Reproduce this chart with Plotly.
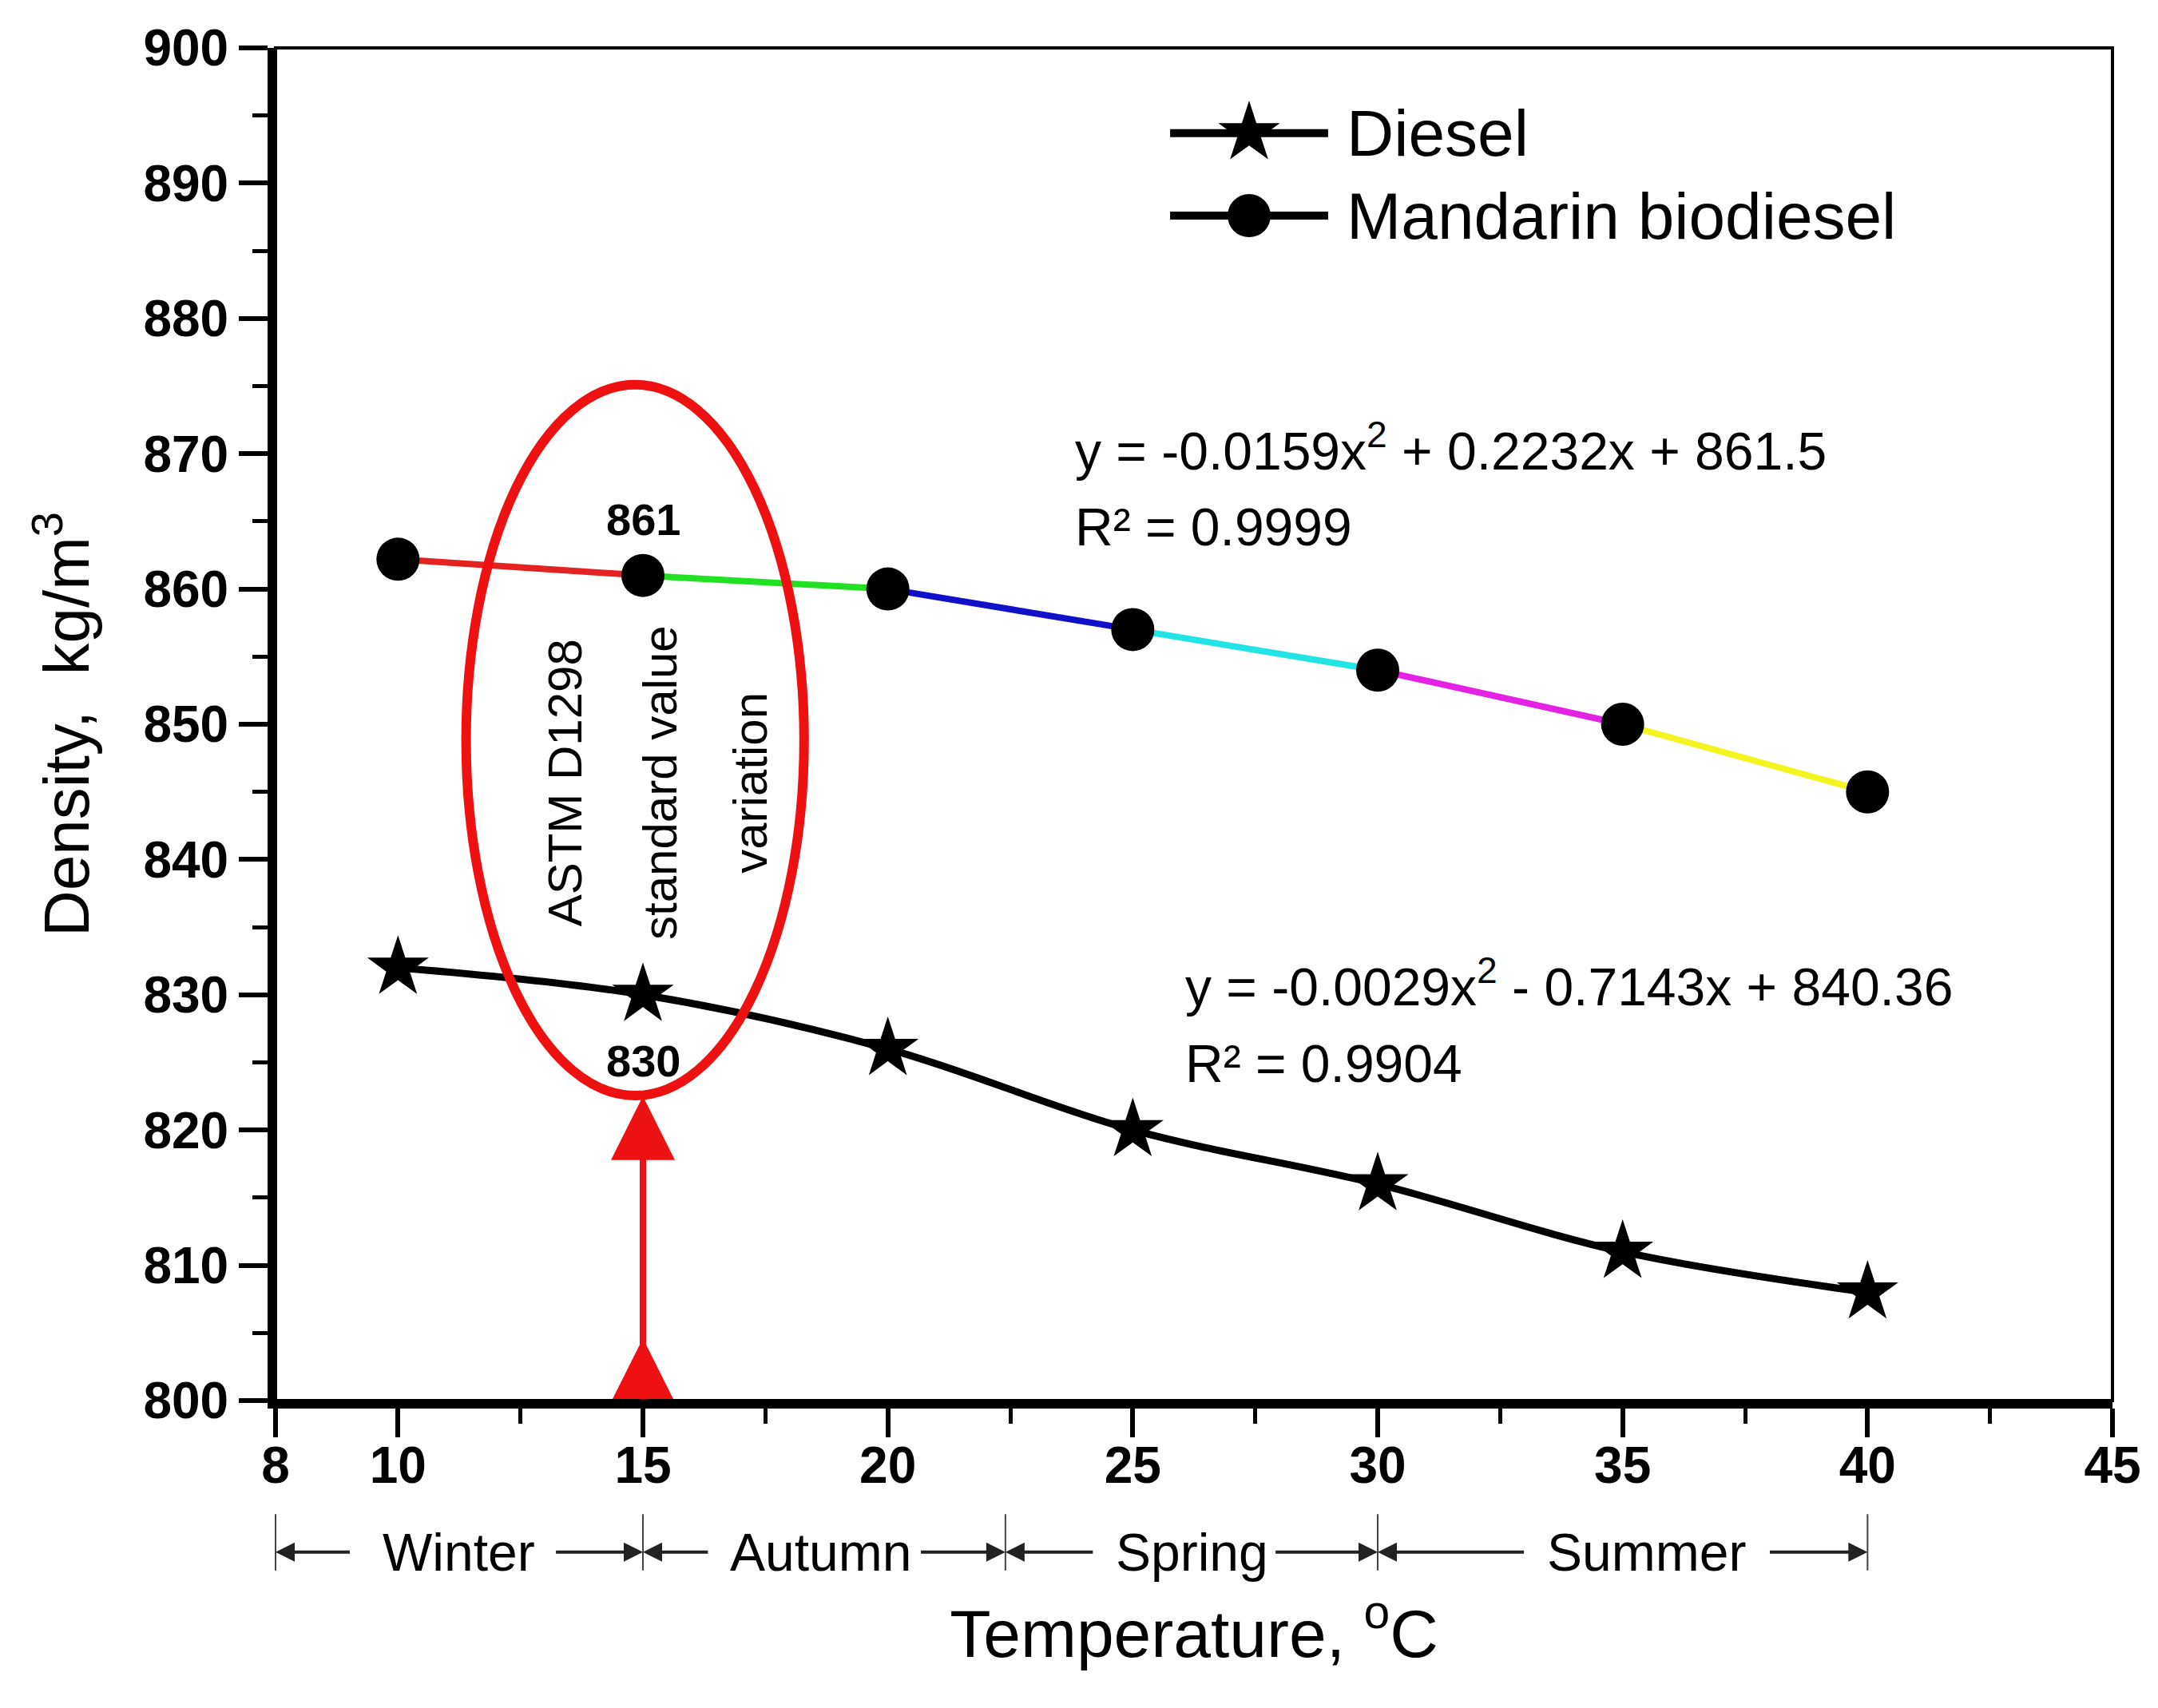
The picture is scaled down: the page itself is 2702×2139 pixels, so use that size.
import plotly.graph_objects as go

# density vs temperature
temperature = [10, 15, 20, 25, 30, 35, 40]
diesel      = [832, 830, 826, 820, 816, 811, 808]
biodiesel   = [862.2, 861, 860, 857, 854, 850, 845]
segment_colors = ["#e42222", "#22e022", "#1010c8", "#22e4e4", "#e422e4", "#f4f422"]

# the original axis starts at 7.5 but labels that first tick "8"
x_ticks     = [7.5, 10, 15, 20, 25, 30, 35, 40, 45]
x_ticktext  = ["8", "10", "15", "20", "25", "30", "35", "40", "45"]

# season bands under the x axis
seasons         = ["Winter", "Autumn", "Spring", "Summer"]
season_bounds   = [7.5, 15, 22.4, 30, 40]
season_label_x  = [11.24, 18.62, 26.21, 35.48]
season_tails    = [(9.04, 13.2), (16.35, 20.65), (24.21, 27.89), (33.01, 37.98)]

# ASTM D1298 reference point
std_temp      = 15
std_diesel    = 830
std_biodiesel = 861
ellipse_x     = (11.39, 18.29)
ellipse_y     = (822.55, 875.1)
arrow_tip     = 822.5
arrow_base    = 804.6
astm_text     = ["ASTM D1298", "standard value", "variation"]
astm_text_x   = [13.41, 15.36, 17.2]
astm_text_y   = 845.7

fit_bio    = ["y = -0.0159x<sup>2</sup> + 0.2232x + 861.5", "R² = 0.9999"]
fit_diesel = ["y = -0.0029x<sup>2</sup> - 0.7143x + 840.36", "R² = 0.9904"]
fit_bio_pos    = (23.79, [870.5, 864.6])
fit_diesel_pos = (26.04, [830.9, 824.9])

legend_names = ["Diesel", "Mandarin biodiesel"]
legend_symbols = ["star", "circle"]
legend_sizes = [58, 54]
legend_rows = [0.937, 0.876]

FONT = "Liberation Sans, Arial, sans-serif"
RED = "#ee1111"

fig = go.Figure()

# biodiesel, each interval its own colour
for i, c in enumerate(segment_colors):
    fig.add_trace(go.Scatter(x=temperature[i:i + 2], y=biodiesel[i:i + 2], mode="lines",
                             line=dict(color=c, width=8)))
fig.add_trace(go.Scatter(x=temperature, y=biodiesel, mode="markers",
                         marker=dict(symbol="circle", size=54, color="black")))

fig.add_trace(go.Scatter(x=temperature, y=diesel, mode="lines+markers",
                         line=dict(color="black", width=9, shape="spline"),
                         marker=dict(symbol="star", size=58, color="black")))

# red triangle at the foot of the arrow
fig.add_trace(go.Scatter(x=[std_temp], y=[arrow_base], mode="markers",
                         marker=dict(symbol="arrow-up", size=76, color=RED)))

# hand made legend on an overlay axis
for name, sym, sz, yy in zip(legend_names, legend_symbols, legend_sizes, legend_rows):
    fig.add_trace(go.Scatter(x=[0.487, 0.573], y=[yy, yy], mode="lines",
                             line=dict(color="black", width=10), xaxis="x2", yaxis="y2"))
    fig.add_trace(go.Scatter(x=[0.53], y=[yy], mode="markers",
                             marker=dict(symbol=sym, size=sz, color="black"), xaxis="x2", yaxis="y2"))
    fig.add_annotation(x=0.582, y=yy, xref="x2", yref="y2", text=name, showarrow=False,
                       xanchor="left", font=dict(size=82, family=FONT, color="black"))

# ellipse around the standard value
fig.add_shape(type="circle", xref="x", yref="y", x0=ellipse_x[0], x1=ellipse_x[1],
              y0=ellipse_y[0], y1=ellipse_y[1], line=dict(color=RED, width=12))

fig.add_annotation(x=std_temp, y=arrow_tip, ax=std_temp, ay=800, xref="x", yref="y",
                   axref="x", ayref="y", text="", showarrow=True, arrowhead=2,
                   arrowsize=2.0, arrowwidth=8, arrowcolor=RED)

for t, xx in zip(astm_text, astm_text_x):
    fig.add_annotation(x=xx, y=astm_text_y, text=t, textangle=-90, showarrow=False,
                       font=dict(size=60, family=FONT, color="black"))

fig.add_annotation(x=std_temp, y=std_biodiesel, text="861", showarrow=False, yshift=70,
                   font=dict(size=56, family=FONT, color="black", weight="bold"))
fig.add_annotation(x=std_temp, y=std_diesel, text="830", showarrow=False, yshift=-83,
                   font=dict(size=56, family=FONT, color="black", weight="bold"))

# fit equations
for lines, (fx, fys) in [(fit_bio, fit_bio_pos), (fit_diesel, fit_diesel_pos)]:
    for t, fy in zip(lines, fys):
        fig.add_annotation(x=fx, y=fy, text=t, showarrow=False, xanchor="left",
                           font=dict(size=66, family=FONT, color="black"))

# seasons below the axis
SEASON_Y = -0.112
for name, lo, hi, lx, (t0, t1) in zip(seasons, season_bounds[:-1], season_bounds[1:],
                                      season_label_x, season_tails):
    fig.add_annotation(x=lx, y=SEASON_Y, xref="x", yref="paper", text=name, showarrow=False,
                       yanchor="middle", font=dict(size=66, family=FONT, color="black"))
    for head, tail in [(lo, t0), (hi, t1)]:
        fig.add_annotation(x=head, y=SEASON_Y, xref="x", yref="paper", ax=tail, ay=0,
                           axref="x", ayref="pixel", text="", showarrow=True, arrowhead=2,
                           arrowsize=1.2, arrowwidth=4, arrowcolor="#222222")
for b in season_bounds:
    fig.add_annotation(x=b, y=-0.084, xref="x", yref="paper", ax=0, ay=72, text="",
                       showarrow=True, arrowhead=0, arrowwidth=2, arrowcolor="#444444")

# thin frame for top / right
fig.add_shape(type="rect", xref="paper", yref="paper", x0=0, x1=1, y0=0, y1=1,
              line=dict(color="black", width=4), layer="below")

axis_common = dict(showgrid=False, zeroline=False, showline=True, linewidth=10, linecolor="black",
                   ticks="outside", ticklen=36, tickwidth=6, tickcolor="black",
                   tickfont=dict(size=64, family=FONT, color="black", weight="bold"))

# the page body adds 8px around the figure, so the margins absorb it
fig.update_layout(
    width=2702, height=2139,
    margin=dict(l=337, r=65, t=52, b=393),
    plot_bgcolor="white", paper_bgcolor="white",
    showlegend=False,
    font=dict(family=FONT, color="black"),
    xaxis=dict(range=[7.5, 45], tickmode="array", tickvals=x_ticks, ticktext=x_ticktext,
               ticklabelstandoff=-20,
               minor=dict(ticks="outside", ticklen=19, tickwidth=5, tickcolor="black",
                          tickmode="linear", tick0=0, dtick=2.5),
               title=dict(text="Temperature, <sup>o</sup>C", standoff=150,
                          font=dict(size=84, family=FONT, color="black")),
               **axis_common),
    yaxis=dict(range=[800, 900], tickmode="linear", tick0=800, dtick=10,
               minor=dict(ticks="outside", ticklen=19, tickwidth=5, tickcolor="black",
                          tickmode="linear", tick0=800, dtick=5),
               title=dict(text="Density,  kg/m<sup>3</sup>", standoff=45,
                          font=dict(size=80, family=FONT, color="black")),
               **axis_common),
    xaxis2=dict(overlaying="x", range=[0, 1], visible=False),
    yaxis2=dict(overlaying="y", range=[0, 1], visible=False),
)

fig.write_html("out.html")
